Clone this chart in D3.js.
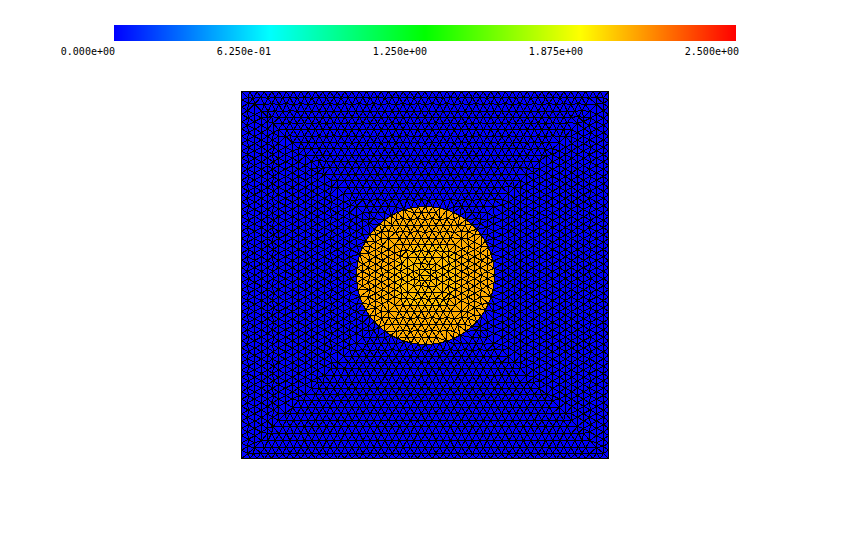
<!DOCTYPE html>
<html><head><meta charset="utf-8">
<script src="https://cdn.jsdelivr.net/npm/d3@7"></script>
<style>html,body{margin:0;padding:0;background:#fff}svg{display:block}text{font-family:"DejaVu Sans Mono",monospace;font-size:10px;fill:#000}</style>
</head><body><svg id="c" width="850" height="549"></svg>
<script>
// colour bar
const tickValues = [0, 0.625, 1.25, 1.875, 2.5];
const tickLabels = ["0.000e+00", "6.250e-01", "1.250e+00", "1.875e+00", "2.500e+00"];
const colourStops = ["#0000ff", "#00ffff", "#00ff00", "#ffff00", "#ff0000"];
// mesh rows, distance from each edge (mesh units, domain 0..367)
const topOffsets    = [0,6.3,12.6,19.7,25.7,31.7,38,44.7,51.3,57.3,64,69.7,76.3,83,89,95.7,102,108.4,114.8,121.2,127.6,134,140.4,146.8,153.2,159.6,166,172.4,178];
const bottomOffsets = [0,5,11,18,25,32,38,45,51,58,64,70,76,83,90,96,102,108.4,114.8,121.2,127.6,134,140.4,146.8,153.2,159.6,166,172.4,178];
const leftOffsets   = [0,6.5,13,20,26,31.5,37,44,51,57,64,70,76,83,89.5,96,102,108.4,114.8,121.2,127.6,134,140.4,146.8,153.2,159.6,166,172.4,178];
const rightOffsets  = [0,5,12,18.5,25,31,37,43,49,56,62,69,75,82,88,94,100,106,114.8,121.2,127.6,134,140.4,146.8,153.2,159.6,166,172.4,178];
// rows that read as solid straight lines: [row, from, to]
const straightTop    = [[3,54,334],[4,44,332],[8,59,86],[9,62,289],[11,79,286],[13,85,280],[14,82,269],[15,90,265]];
const straightBottom = [[3,19,352],[5,49,339],[6,47,346],[10,67,286],[11,79,276],[14,130,270],[15,116,276],[16,116,252]];
const straightLeft   = [[3,9,359],[4,19,339],[6,29,329],[8,59,299],[9,65,295],[10,70,290],[12,79,269],[15,124,239]];
const straightRight  = [[1,9,359],[2,19,349],[5,29,329],[7,40,320],[8,49,309],[9,49,309],[14,79,279],[17,99,239]];
const nodeSpacing = 7.3;
const rowWiggle = 0.4;
const discCentre = [184, 184];
const discRadius = 69;
const discNodeCount = 60;
const fieldValues = [0.0, 2.08, 2.04];   // background, disc, disc core
const coreRadius = 34;

const svg = d3.select("#c");
const meshExtent = [0, 367];
const x = d3.scaleLinear().domain(meshExtent).range([241.5, 608.5]);
const y = d3.scaleLinear().domain(meshExtent).range([91.5, 458.5]);
const barX = d3.scaleLinear().domain([0, 2.5]).range([114, 736]);
const labelX = d3.scaleLinear().domain([0, 2.5]).range([115, 739]);
const colour = d3.scaleLinear().domain(tickValues).range(colourStops).clamp(true);

svg.append("g").selectAll("rect").data(d3.range(114, 736)).join("rect")
  .attr("x", d => d).attr("y", 25).attr("width", 1).attr("height", 16)
  .attr("shape-rendering", "crispEdges")
  .attr("fill", d => colour(barX.invert(d + 0.5)));
svg.append("g").selectAll("text").data(tickValues).join("text")
  .attr("x", d => labelX(d)).attr("y", 55).attr("text-anchor", "end")
  .text((d, i) => tickLabels[i]);

// nodes
const M = meshExtent[1];
const nodes = [];
const minGap = 4.2;
function tryAdd(p) {
  const r = Math.hypot(p[0] - discCentre[0], p[1] - discCentre[1]);
  if (Math.abs(r - discRadius) < 4.5) return;
  for (const q of nodes) if (Math.hypot(p[0] - q[0], p[1] - q[1]) < minGap) return;
  nodes.push(p);
}
d3.range(discNodeCount).forEach(i => {
  const a = 2 * Math.PI * i / discNodeCount;
  nodes.push([discCentre[0] + discRadius * Math.cos(a), discCentre[1] + discRadius * Math.sin(a)]);
});
const isStraight = (list, k, u) => list.some(s => s[0] === k && u >= s[1] && u <= s[2]);
topOffsets.forEach((_, k) => {
  const t = topOffsets[k], b = M - bottomOffsets[k], l = leftOffsets[k], r = M - rightOffsets[k];
  if (b <= t || r <= l) return;
  [[l,t],[r,t],[r,b],[l,b]].forEach(tryAdd);
  const shift = (k % 2) / 2;
  const n = Math.ceil(M / nodeSpacing);
  const cx = M / 2, cy = M / 2;
  d3.range(-n, n + 1).forEach(i => {
    const s = (i + shift) * nodeSpacing;
    const w = k === 0 ? 0 : (i % 2 === 0 ? rowWiggle : -rowWiggle);
    const ux = cx + s, uy = cy + s;
    if (ux > l && ux < r) {
      tryAdd([ux, t + (isStraight(straightTop, k, ux) ? 0 : w)]);
      tryAdd([ux, b + (isStraight(straightBottom, k, ux) ? 0 : w)]);
    }
    if (uy > t && uy < b) {
      tryAdd([l + (isStraight(straightLeft, k, uy) ? 0 : w), uy]);
      tryAdd([r + (isStraight(straightRight, k, uy) ? 0 : w), uy]);
    }
  });
});

const delaunay = d3.Delaunay.from(nodes);
const tris = d3.range(delaunay.triangles.length / 3).map(i => {
  const t = [0, 1, 2].map(j => nodes[delaunay.triangles[3 * i + j]]);
  const cx = d3.mean(t, p => p[0]), cy = d3.mean(t, p => p[1]);
  const r = Math.hypot(cx - discCentre[0], cy - discCentre[1]);
  const v = r > discRadius ? fieldValues[0] : (r < coreRadius ? fieldValues[2] : fieldValues[1]);
  return { t, v };
});
const line = d3.line().x(p => x(p[0])).y(p => y(p[1])).curve(d3.curveLinearClosed);
svg.append("g").attr("shape-rendering", "crispEdges").selectAll("path").data(tris).join("path")
  .attr("d", d => line(d.t))
  .attr("fill", d => colour(d.v))
  .attr("stroke", "#000").attr("stroke-width", 1).attr("stroke-linejoin", "round");
svg.append("rect").attr("x", x(0)).attr("y", y(0)).attr("width", x(M) - x(0)).attr("height", y(M) - y(0))
  .attr("fill", "none").attr("stroke", "#000").attr("shape-rendering", "crispEdges");
</script></body></html>
